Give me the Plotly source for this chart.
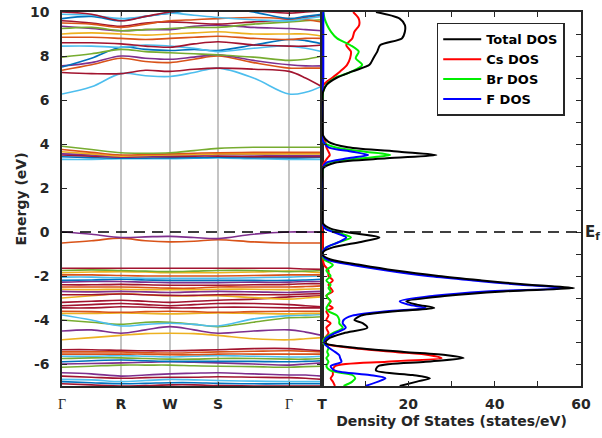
import plotly.graph_objects as go

# ---------------- data ----------------
# k-path sample positions (Γ, mid, R, mid, W, mid, S, mid, Γ, mid, T)
kpts = [0, 29.5, 59, 83.5, 108, 132, 156, 191.5, 227, 243.5, 260]
hs_pos = [0, 59, 108, 156, 227, 260]
hs_labels = ["Γ", "R", "W", "S", "Γ", "T"]

bands_vb_deep = [
    [-6.4, -6.45, -6.55, -6.5, -6.45, -6.42, -6.4, -6.45, -6.5, -6.5, -6.55],
    [-6.55, -6.6, -6.65, -6.62, -6.6, -6.6, -6.58, -6.6, -6.62, -6.65, -6.7],
    [-6.7, -6.72, -6.8, -6.75, -6.7, -6.72, -6.75, -6.78, -6.8, -6.8, -6.8],
    [-6.8, -6.85, -6.9, -6.88, -6.85, -6.85, -6.88, -6.9, -6.9, -6.9, -6.9],
    [-6.9, -6.95, -7.0, -6.98, -6.95, -6.95, -6.98, -7.0, -7.0, -7.0, -7.0],
]
bands_vb_low = [
    [-6.15, -6.1, -6.05, -6.05, -6.05, -6.08, -6.1, -6.12, -6.15, -6.12, -6.1],
    [-6.0, -5.98, -5.95, -5.92, -5.9, -5.92, -5.95, -6.0, -6.05, -6.0, -5.95],
    [-5.9, -5.85, -5.82, -5.85, -5.88, -5.88, -5.88, -5.88, -5.9, -5.88, -5.85],
    [-5.75, -5.72, -5.72, -5.75, -5.78, -5.78, -5.75, -5.75, -5.78, -5.78, -5.75],
    [-5.65, -5.65, -5.62, -5.65, -5.68, -5.65, -5.62, -5.65, -5.68, -5.68, -5.65],
    [-5.55, -5.55, -5.55, -5.55, -5.58, -5.58, -5.55, -5.55, -5.55, -5.55, -5.55],
    [-5.45, -5.45, -5.45, -5.48, -5.5, -5.48, -5.45, -5.42, -5.4, -5.42, -5.45],
    [-5.35, -5.35, -5.38, -5.4, -5.4, -5.38, -5.35, -5.3, -5.3, -5.35, -5.4],
]
bands_vb_mid = [
    [-4.9, -4.8, -4.7, -4.62, -4.6, -4.62, -4.7, -4.85, -4.9, -4.85, -4.8],
    [-4.5, -4.45, -4.6, -4.45, -4.3, -4.45, -4.6, -4.5, -4.45, -4.55, -4.7],
    [-4.0, -4.1, -4.2, -4.1, -4.1, -4.2, -4.3, -4.1, -3.9, -3.88, -3.85],
    [-3.77, -4.0, -4.27, -4.2, -4.15, -4.2, -4.27, -3.95, -3.8, -3.78, -3.75],
    [-3.7, -3.7, -3.68, -3.7, -3.72, -3.7, -3.68, -3.7, -3.72, -3.7, -3.7],
    [-3.6, -3.62, -3.65, -3.62, -3.6, -3.62, -3.65, -3.62, -3.6, -3.6, -3.6],
    [-3.45, -3.45, -3.4, -3.42, -3.45, -3.45, -3.42, -3.42, -3.45, -3.45, -3.45],
    [-3.35, -3.3, -3.25, -3.3, -3.35, -3.3, -3.25, -3.25, -3.3, -3.35, -3.4],
]
bands_vb_high = [
    [-3.2, -3.15, -3.1, -3.15, -3.2, -3.15, -3.1, -3.05, -2.95, -2.92, -2.9],
    [-3.0, -2.9, -2.8, -2.85, -2.9, -2.9, -2.9, -2.98, -3.05, -3.0, -2.95],
    [-2.85, -2.85, -2.82, -2.85, -2.88, -2.88, -2.85, -2.85, -2.85, -2.82, -2.8],
    [-2.7, -2.72, -2.7, -2.72, -2.75, -2.72, -2.7, -2.72, -2.75, -2.72, -2.7],
    [-2.6, -2.62, -2.6, -2.62, -2.62, -2.62, -2.6, -2.6, -2.62, -2.6, -2.58],
    [-2.5, -2.5, -2.5, -2.52, -2.55, -2.55, -2.5, -2.5, -2.5, -2.48, -2.45],
    [-2.4, -2.4, -2.38, -2.4, -2.42, -2.42, -2.42, -2.4, -2.38, -2.35, -2.35],
    [-2.28, -2.25, -2.25, -2.28, -2.3, -2.3, -2.3, -2.28, -2.28, -2.25, -2.25],
    [-2.2, -2.18, -2.15, -2.18, -2.2, -2.2, -2.2, -2.2, -2.2, -2.18, -2.15],
    [-2.05, -2.05, -2.08, -2.1, -2.1, -2.1, -2.1, -2.08, -2.05, -2.02, -2.0],
    [-1.95, -1.95, -1.98, -2.0, -2.0, -2.0, -2.0, -1.98, -1.95, -1.95, -1.95],
    [-1.85, -1.82, -1.8, -1.82, -1.85, -1.85, -1.85, -1.82, -1.78, -1.8, -1.85],
    [-1.75, -1.72, -1.75, -1.78, -1.8, -1.78, -1.75, -1.75, -1.8, -1.78, -1.75],
    [-1.65, -1.65, -1.65, -1.65, -1.65, -1.65, -1.65, -1.65, -1.65, -1.68, -1.7],
]
bands_vbm = [
    [-0.5, -0.4, -0.28, -0.4, -0.45, -0.42, -0.35, -0.45, -0.5, -0.5, -0.5],
    [0.0, -0.1, -0.25, -0.22, -0.2, -0.25, -0.3, -0.1, 0.0, 0.0, 0.0],
]
bands_cb_low = [
    [3.3, 3.3, 3.33, 3.33, 3.33, 3.35, 3.37, 3.33, 3.3, 3.3, 3.3],
    [3.42, 3.38, 3.35, 3.36, 3.37, 3.38, 3.4, 3.38, 3.37, 3.38, 3.4],
    [3.5, 3.45, 3.4, 3.42, 3.42, 3.45, 3.45, 3.42, 3.42, 3.42, 3.42],
    [3.55, 3.5, 3.42, 3.45, 3.47, 3.5, 3.52, 3.5, 3.48, 3.48, 3.48],
    [3.65, 3.55, 3.45, 3.48, 3.5, 3.52, 3.55, 3.55, 3.55, 3.55, 3.55],
    [3.75, 3.62, 3.5, 3.52, 3.55, 3.58, 3.6, 3.62, 3.62, 3.62, 3.62],
    [3.9, 3.75, 3.6, 3.58, 3.6, 3.7, 3.8, 3.85, 3.85, 3.85, 3.85],
]
bands_cb_high = [
    [6.27, 6.6, 7.2, 7.1, 7.07, 7.25, 7.45, 7.0, 6.27, 6.35, 6.63],
    [7.25, 7.2, 7.2, 7.35, 7.3, 7.4, 7.45, 7.4, 7.3, 7.0, 6.6],
    [7.35, 7.6, 7.9, 7.75, 7.7, 7.85, 8.0, 7.7, 7.45, 7.45, 7.45],
    [7.55, 7.7, 8.0, 7.9, 7.85, 7.95, 8.05, 7.8, 7.6, 7.55, 7.55],
    [7.5, 7.9, 8.4, 8.3, 8.25, 8.3, 8.25, 8.5, 8.75, 8.7, 8.55],
    [7.95, 8.1, 8.3, 8.2, 8.15, 8.1, 8.05, 7.95, 7.8, 7.85, 8.0],
    [8.45, 8.45, 8.4, 8.5, 8.45, 8.35, 8.2, 8.35, 8.45, 8.35, 8.2],
    [8.6, 8.6, 8.55, 8.45, 8.4, 8.55, 8.65, 8.5, 8.45, 8.45, 8.5],
    [8.85, 8.85, 8.8, 8.75, 8.8, 8.85, 8.9, 8.8, 8.75, 8.8, 8.8],
    [9.0, 9.05, 9.0, 8.95, 9.0, 9.05, 9.1, 9.0, 9.0, 9.0, 8.9],
    [9.35, 9.25, 9.15, 9.2, 9.2, 9.35, 9.4, 9.3, 9.25, 9.2, 9.15],
    [9.25, 9.3, 9.15, 9.2, 9.25, 9.3, 9.3, 9.45, 9.55, 9.6, 9.65],
    [9.6, 9.5, 9.35, 9.5, 9.55, 9.5, 9.45, 9.55, 9.65, 9.75, 9.85],
    [9.5, 9.45, 9.3, 9.45, 9.6, 9.65, 9.7, 9.75, 9.7, 9.65, 9.55],
    [9.7, 9.8, 9.6, 9.8, 9.95, 10.1, 10.2, 10.0, 9.7, 9.8, 9.9],
    [9.9, 9.85, 9.7, 9.8, 9.95, 9.85, 9.75, 9.65, 9.6, 9.7, 9.8],
    [10.0, 9.9, 9.6, 9.8, 10.0, 10.1, 10.15, 10.05, 9.95, 10.0, 10.05],
]

dos_energy = [10.0, 9.7, 9.4, 9.1, 8.8, 8.5, 8.2, 7.9, 7.6, 7.3, 7.0, 6.7, 6.4, 6.0,
              5.0, 4.4, 4.1, 3.85, 3.65, 3.5, 3.35, 3.15, 2.9, 2.5, 1.0,
              0.4, 0.15, -0.05, -0.25, -0.45, -0.7, -0.9, -1.05,
              -1.25, -1.5, -1.75, -2.0, -2.2, -2.4, -2.55, -2.7, -2.9, -3.15, -3.3,
              -3.45, -3.6, -3.8, -4.0, -4.15, -4.35, -4.6, -4.85, -5.05, -5.25,
              -5.45, -5.6, -5.73, -5.9, -6.1, -6.3, -6.5, -6.65, -6.8, -7.0]
dos_total = [12.5, 18, 19.2, 19.2, 18.5, 13.5, 12.8, 11.9, 11, 7, 3.3, 1.1, 0.3, 0,
             0, 0.2, 1.5, 6, 18, 26.5, 15, 3, 0.3, 0, 0,
             0.2, 2, 7, 13.3, 9, 2.5, 0.3, 0.2,
             2, 9, 17, 27, 37, 48, 58.4, 42, 29, 19.5, 22,
             26, 17, 9, 7.5, 9.5, 10.5, 5, 1.5, 0.8, 7,
             19, 29, 32.8, 24, 13, 12.5, 21, 25, 22, 18]
dos_cs = [7.2, 8.5, 8.6, 7.5, 7, 5.6, 6.7, 6.5, 5.8, 4.2, 2.3, 0.4, 0, 0,
          0, 0, 0.8, 1, 1.5, 1.8, 1.2, 0.5, 0, 0, 0,
          0, 0, 0.1, 0.2, 0.2, 0.1, 0, 0,
          0.2, 0.5, 1.5, 1.5, 2.5, 1.5, 2, 2.5, 1, 2, 1.5,
          2.5, 1, 1.5, 1, 2, 1, 1.5, 0.5, 0.3, 6,
          17, 25, 27.7, 15, 3, 2.5, 2.5, 2, 2.5, 3]
dos_br = [0.3, 0.6, 1.2, 2.1, 3.5, 6.5, 8.5, 7.8, 9.3, 7, 3, 1, 0.3, 0,
          0, 0, 0.3, 3, 10, 15.8, 9, 1.5, 0.2, 0, 0,
          0.1, 1, 4, 6.7, 4, 1, 0.2, 0.1,
          0.5, 2.5, 1, 2, 1, 2, 1.5, 2, 1, 2, 1.5,
          1, 1.5, 3.5, 4, 4, 4.8, 2.5, 0.5, 0.3, 1.5,
          1.2, 1.5, 1, 1.5, 1, 2, 7, 7.7, 7, 5]
dos_f = [0.3, 0.3, 0.3, 0.3, 0.3, 0.3, 0.3, 0.3, 0.3, 0.3, 0.3, 0.2, 0, 0,
         0, 0, 0.3, 1.5, 7, 10.7, 6, 1, 0.1, 0, 0,
         0.1, 0.8, 3.3, 5.6, 4, 1, 0.2, 0.1,
         1.2, 7, 15, 24.5, 35, 46, 56.5, 38, 26, 18, 20,
         24, 15, 7, 5, 4.8, 5.5, 3, 0.8, 0.5, 1.5,
         3, 4, 4.2, 4.5, 2, 3, 11, 14.7, 13, 10]

# ---------------- styles ----------------
# MATLAB default line colours: 0 blue, 1 orange, 2 yellow, 3 purple, 4 green, 5 light blue, 6 dark red
mc = ["#0072BD", "#D95319", "#EDB120", "#7E2F8E", "#77AC30", "#4DBEEE", "#A2142F"]
group_colors = [
    (bands_vb_deep, [3, 6, 5, 0, 6]),
    (bands_vb_low, [4, 3, 0, 4, 5, 1, 1, 6]),
    (bands_vb_mid, [2, 3, 4, 5, 2, 1, 6, 6]),
    (bands_vb_high, [6, 2, 6, 3, 2, 1, 6, 3, 0, 5, 1, 2, 4, 6]),
    (bands_vbm, [1, 3]),
    (bands_cb_low, [5, 0, 6, 3, 2, 1, 4]),
    (bands_cb_high, [5, 6, 1, 3, 0, 4, 5, 6, 1, 2, 3, 4, 6, 1, 0, 5, 6]),
]
axis_col = "#262626"

fig = go.Figure()

for group, cidx in group_colors:
    for b, ci in zip(group, cidx):
        fig.add_trace(go.Scatter(
            x=kpts, y=b, mode="lines", xaxis="x", yaxis="y",
            line=dict(color=mc[ci], width=1.6, shape="spline"),
            showlegend=False, hoverinfo="skip"))

dos_series = [
    ("Cs DOS", dos_cs, "#ff0000", 2),
    ("Br DOS", dos_br, "#00ee00", 3),
    ("F DOS", dos_f, "#0000ff", 4),
    ("Total DOS", dos_total, "#000000", 1),
]
for name, vals, col, rank in dos_series:
    fig.add_trace(go.Scatter(
        x=vals, y=dos_energy, mode="lines", xaxis="x2", yaxis="y2",
        name=name, legendrank=rank,
        line=dict(color=col, width=2, shape="spline", smoothing=0.8)))

gamma = "<span style=\"font-family:'Liberation Serif';font-weight:normal\">Γ</span>"
ticktext = [gamma if t == "Γ" else t for t in hs_labels]

fig.update_layout(
    width=602, height=438,
    margin=dict(l=62, r=21, t=12, b=52, autoexpand=False),
    paper_bgcolor="white", plot_bgcolor="white",
    font=dict(family="DejaVu Sans", size=14, color=axis_col, weight="bold"),
    xaxis=dict(domain=[0, 0.501], range=[0, 260], anchor="y", automargin=False,
               tickvals=hs_pos, ticktext=ticktext, tickfont=dict(size=14),
               ticklabelstandoff=4,
               showgrid=True, gridcolor="#c4c4c4", gridwidth=2,
               ticks="inside", ticklen=4, tickcolor=axis_col, mirror="allticks",
               showline=True, linecolor=axis_col, linewidth=1.5, zeroline=False),
    yaxis=dict(domain=[0, 1], range=[-7, 10], anchor="x", automargin=False,
               tickvals=[-6, -4, -2, 0, 2, 4, 6, 8, 10],
               ticktext=["-6", "-4", "-2", "0", "2", "4", "6", "8", "10"],
               ticklabelstandoff=8, ticklabeloverflow="allow",
               ticks="inside", ticklen=5, tickcolor=axis_col, mirror="allticks",
               showline=True, linecolor=axis_col, linewidth=1.5,
               showgrid=False, zeroline=False,
               title=dict(text="Energy (eV)", font=dict(size=14), standoff=0)),
    xaxis2=dict(domain=[0.501, 1], range=[0, 60], anchor="y2", automargin=False,
                tickvals=[0, 10, 20, 30, 40, 50, 60],
                ticktext=["", "", "20", "", "40", "", "60"],
                ticklabelstandoff=4, ticklabeloverflow="allow",
                ticks="inside", ticklen=5, tickcolor=axis_col, mirror="allticks",
                showline=True, linecolor=axis_col, linewidth=1.5,
                showgrid=False, zeroline=False,
                title=dict(text="Density Of States (states/eV)", font=dict(size=14), standoff=6)),
    yaxis2=dict(domain=[0, 1], matches="y", anchor="x2", range=[-7, 10], automargin=False,
                dtick=1, showticklabels=False,
                ticks="inside", ticklen=5, tickcolor=axis_col, mirror="allticks",
                showline=True, linecolor=axis_col, linewidth=1.5,
                showgrid=False, zeroline=False),
    legend=dict(x=0.722, y=0.971, xanchor="left", yanchor="top",
                bgcolor="white", bordercolor=axis_col, borderwidth=1.5,
                itemwidth=38,
                font=dict(size=13, color="black"), tracegroupgap=0),
    showlegend=True,
)

fig.add_shape(type="line", xref="paper", yref="y", x0=0, x1=1, y0=0, y1=0,
              line=dict(color="black", width=1.6, dash="11px,7px"))
fig.add_annotation(xref="paper", yref="y", x=1.004, y=0, xanchor="left", yanchor="middle",
                   text="E<sub>f</sub>", showarrow=False,
                   font=dict(size=15, color=axis_col))

fig.write_html("out.html", config={"displayModeBar": False},
               post_script="document.body.style.margin='0px';document.body.style.overflow='hidden';")
